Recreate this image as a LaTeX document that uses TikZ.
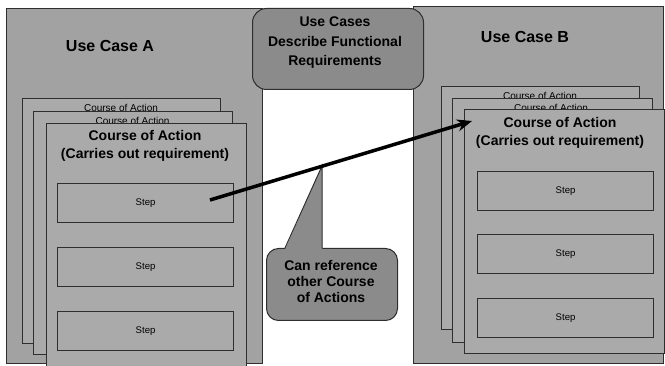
\documentclass[tikz,border=0pt]{standalone}
\usepackage{fontspec}
\setmainfont{Liberation Sans}
\usetikzlibrary{arrows.meta}
\definecolor{casegray}{HTML}{A2A2A2}
\definecolor{coagray}{HTML}{AAAAAA}
\definecolor{notegray}{HTML}{8B8B8B}
\definecolor{edgegray}{HTML}{2E2E2E}
\tikzset{>=stealth}
\tikzset{
  usecase/.style={draw=edgegray, fill=casegray, line width=0.8pt, anchor=north west, inner sep=0pt},
  coa/.style={draw=edgegray, fill=coagray, line width=1.2pt, anchor=north west, inner sep=0pt},
  stepbox/.style={draw=edgegray, fill=coagray, line width=1.2pt, anchor=north west, inner sep=0pt,
    minimum width=176pt, minimum height=39pt, font=\fontsize{9.6}{11}\selectfont},
  casetitle/.style={font=\fontsize{16}{19}\selectfont\bfseries},
  coatitle/.style={font=\fontsize{14}{18}\selectfont\bfseries, align=center},
  coasmall/.style={font=\fontsize{10}{12}\selectfont},
  note/.style={draw=edgegray, fill=notegray, line width=1pt, rounded corners=14pt, anchor=north west, inner sep=0pt},
  notetext/.style={align=center, font=\fontsize{14}{19.5}\selectfont\bfseries}
}
\begin{document}
\begin{tikzpicture}[x=1pt,y=-1pt]
      \useasboundingbox (0,0) rectangle (665,366);
      % use case A
      \node[usecase, minimum width=256pt, minimum height=355pt] (caseA) at (6,8) {};
      \node[casetitle] (titleA) at (110,46) {Use Case A};
      \node[coa, minimum width=198pt, minimum height=245pt] (coaAa) at (22,98) {};
      \node[coasmall] (coaAatxt) at (121,108) {Course of Action};
      \node[coa, minimum width=199pt, minimum height=243pt] (coaAb) at (33,111) {};
      \node[coasmall] (coaAbtxt) at (132.5,121) {Course of Action};
      \node[coa, minimum width=200pt, minimum height=250pt] (coaA) at (46,123) {};
      \node[coatitle] (coaAtxt) at (145,146) {Course of Action\\(Carries out requirement)};
      \node[stepbox] (stepAa) at (57,183) {Step};
      \node[stepbox] (stepAb) at (57,247) {Step};
      \node[stepbox] (stepAc) at (57,311) {Step};
      % use case B
      \node[usecase, minimum width=250pt, minimum height=357pt] (caseB) at (413,6) {};
      \node[casetitle] (titleB) at (525,37) {Use Case B};
      \node[coa, minimum width=198pt, minimum height=243pt] (coaBa) at (441,86) {};
      \node[coasmall] (coaBatxt) at (540,96) {Course of Action};
      \node[coa, minimum width=200pt, minimum height=244pt] (coaBb) at (452,98) {};
      \node[coasmall] (coaBbtxt) at (551,108) {Course of Action};
      \node[coa, minimum width=200pt, minimum height=244pt] (coaB) at (464,109) {};
      \node[coatitle] (coaBtxt) at (560,132.5) {Course of Action\\(Carries out requirement)};
      \node[stepbox] (stepBa) at (477,171) {Step};
      \node[stepbox] (stepBb) at (477,234) {Step};
      \node[stepbox] (stepBc) at (477,298) {Step};
      % notes
      \node[note, minimum width=171pt, minimum height=81pt] (noteTop) at (252,8) {};
      \node[notetext] (noteToptxt) at (335,43) {Use Cases\\Describe Functional\\Requirements};
      \node[note, rounded corners=12pt, minimum width=131pt, minimum height=72pt] (noteRef) at (266,248) {};
      \coordinate (pointer) at (322,166);
      \fill[notegray] (285,249.5) -- (pointer) -- (322,249.5) -- cycle;
      \draw[edgegray, line width=1pt] (285,248) -- (pointer) -- (322,248);
      \node[notetext, font=\fontsize{14}{16}\selectfont\bfseries] (noteReftxt) at (331,281) {Can reference\\other Course\\of Actions};
      % reference arrow
      \coordinate (refstart) at (210,200);
      \coordinate (reftip) at (472,121);
      \draw[line width=3.5pt, -{Stealth[length=15pt,width=12pt]}] (refstart) -- (reftip);
\end{tikzpicture}
\end{document}
